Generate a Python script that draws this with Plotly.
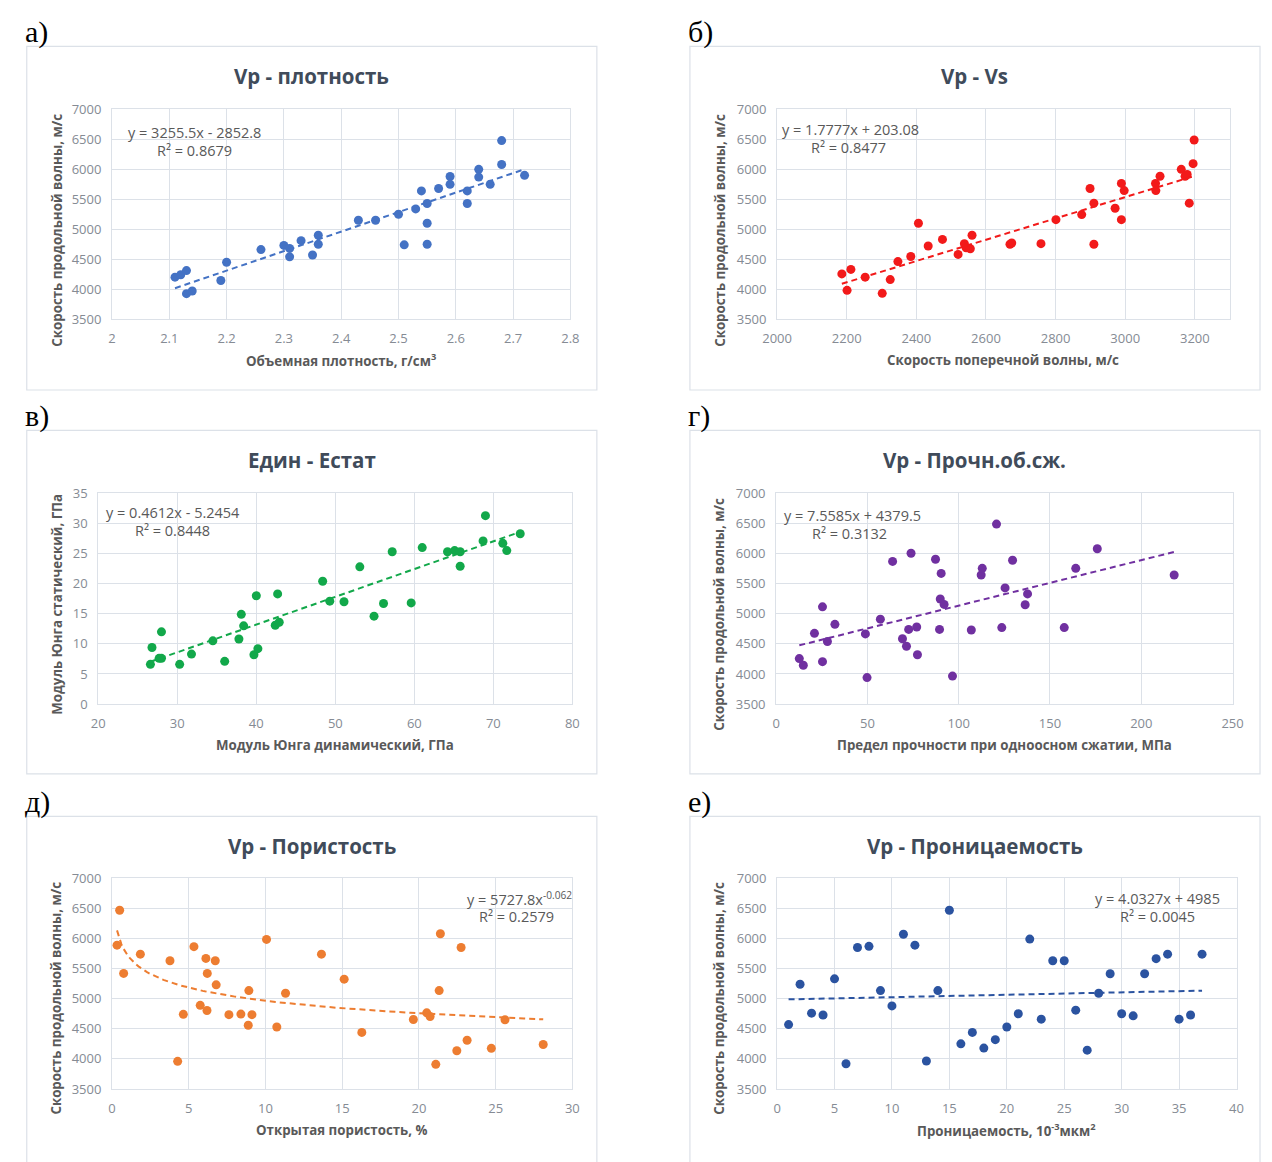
import numpy as np
import plotly.graph_objects as go

W, H = 1272, 1162

# ---------------- DATA ----------------
# а) Vp - плотность
dens_x = [2.11, 2.12, 2.13, 2.13, 2.14, 2.19, 2.20, 2.26, 2.30, 2.31, 2.31, 2.33, 2.35, 2.36, 2.36,
          2.43, 2.46, 2.50, 2.51, 2.53, 2.54, 2.55, 2.55, 2.55, 2.57, 2.59, 2.59, 2.62, 2.62, 2.64,
          2.64, 2.66, 2.68, 2.68, 2.72]
dens_vp = [4200, 4240, 4310, 3925, 3970, 4145, 4450, 4660, 4730, 4680, 4540, 4810, 4570, 4900, 4750,
           5150, 5150, 5250, 4740, 5340, 5640, 5430, 5100, 4750, 5680, 5880, 5750, 5640, 5430, 6000,
           5870, 5750, 6480, 6080, 5900]
dens_fit = (3255.5, -2852.8)

# б) Vp - Vs
vs_x = [2186, 2201, 2212, 2253, 2302, 2325, 2347, 2384, 2406, 2434, 2475, 2520, 2538, 2543, 2555,
        2560, 2669, 2674, 2758, 2801, 2875, 2899, 2910, 2910, 2971, 2989, 2989, 2997, 3087, 3088,
        3100, 3161, 3172, 3178, 3184, 3195, 3198]
vs_vp = [4255, 3980, 4330, 4200, 3930, 4160, 4460, 4545, 5100, 4720, 4830, 4580, 4760, 4690, 4675,
         4900, 4750, 4770, 4760, 5160, 5245, 5680, 5435, 4750, 5350, 5160, 5765, 5645, 5765, 5645,
         5885, 6000, 5885, 5915, 5435, 6095, 6490]
vs_fit = (1.7777, 203.08)

# в) Един - Естат
edyn = [26.6, 26.8, 27.7, 28.0, 28.0, 30.3, 31.8, 34.5, 36.0, 37.8, 38.1, 38.4, 39.7, 40.2, 40.0,
        42.4, 42.9, 42.7, 48.4, 49.3, 51.1, 53.1, 54.9, 56.1, 57.2, 59.6, 61.0, 64.2, 65.1, 65.8,
        65.8, 68.7, 69.0, 71.2, 71.7, 73.4]
estat = [6.6, 9.4, 7.6, 7.6, 12.0, 6.6, 8.3, 10.5, 7.1, 10.8, 14.9, 13.0, 8.2, 9.2, 18.0,
         13.1, 13.6, 18.3, 20.4, 17.1, 17.0, 22.8, 14.6, 16.7, 25.3, 16.8, 26.0, 25.3, 25.5, 25.3,
         22.9, 27.1, 31.3, 26.7, 25.5, 28.3]
e_fit = (0.4612, -5.2454)

# г) Vp - Прочн.об.сж.
ucs = [12.7, 14.9, 21.0, 25.4, 25.4, 28.1, 32.2, 48.9, 49.8, 57.1, 63.8, 69.2, 71.4, 72.6, 73.9,
       77.0, 77.4, 87.3, 89.5, 89.9, 90.4, 92.0, 96.6, 106.9, 112.3, 112.9, 120.7, 123.6, 125.4,
       129.5, 136.4, 137.7, 157.8, 164.1, 175.9, 218.0]
ucs_vp = [4255, 4145, 4675, 5115, 4205, 4540, 4825, 4665, 3940, 4910, 5870, 4585, 4460, 4740, 6005,
          4780, 4320, 5905, 4740, 5245, 5670, 5155, 3965, 4730, 5645, 5755, 6490, 4770, 5430,
          5890, 5150, 5330, 4770, 5755, 6080, 5645]
ucs_fit = (7.5585, 4379.5)

# д) Vp - Пористость
por = [0.33, 0.5, 0.76, 1.85, 3.78, 4.28, 4.65, 5.34, 5.75, 6.12, 6.19, 6.21, 6.73, 6.79, 7.62,
       8.4, 8.88, 8.92, 9.12, 10.07, 10.74, 11.31, 13.65, 15.13, 16.28, 19.64, 20.51, 20.73, 21.1,
       21.32, 21.4, 22.47, 22.75, 23.14, 24.72, 25.61, 28.1]
por_vp = [5890, 6470, 5420, 5740, 5630, 3960, 4740, 5865, 4890, 5670, 4805, 5420, 5630, 5230, 4735,
          4745, 4560, 5135, 4735, 5985, 4530, 5090, 5740, 5325, 4440, 4655, 4765, 4705, 3910,
          5135, 6080, 4135, 5850, 4310, 4175, 4650, 4240]
por_fit = (5727.8, -0.062)

# е) Vp - Проницаемость
perm = list(range(1, 38))
perm_vp = [4570, 5240, 4760, 4730, 5330, 3920, 5850, 5870, 5135, 4880, 6070, 5890, 3965, 5135, 6470,
           4250, 4440, 4180, 4320, 4530, 4750, 5990, 4660, 5630, 5630, 4810, 4145, 5090, 5415,
           4750, 4715, 5415, 5665, 5740, 4660, 4730, 5740]
perm_fit = (4.0327, 4985)

# ---------------- LAYOUT CONFIG ----------------
def fx(p):
    return p / W


def fy(p):
    return 1 - p / H


VP_LABEL = "Скорость продольной волны, м/с"
panels = [
    dict(x=dens_x, y=dens_vp, color="#4472C4", kind="lin", fit=dens_fit,
         xr=[2, 2.8], dx=0.1, yr=[3500, 7000], dy=500,
         dom=(99, 567, 102, 315), box=(12, 594, 38, 387), letter="а)",
         title="Vp - плотность", xt="Объемная плотность, г/см<sup>3</sup>", yt=VP_LABEL, ytc=225,
         eq="y = 3255.5x - 2852.8", r2="R² = 0.8679", eqp=(113, 125), r2p=(143, 144)),
    dict(x=vs_x, y=vs_vp, color="#F21A1A", kind="lin", fit=vs_fit,
         xr=[2000, 3300], dx=200, yr=[3500, 7000], dy=500,
         dom=(778, 1240, 102, 315), box=(689, 1271, 38, 387), letter="б)",
         title="Vp - Vs", xt="Скорость поперечной волны, м/с", yt=VP_LABEL, ytc=225,
         eq="y = 1.7777x + 203.08", r2="R² = 0.8477", eqp=(781, 122), r2p=(811, 141)),
    dict(x=edyn, y=estat, color="#12A84A", kind="lin", fit=e_fit,
         xr=[20, 80], dx=10, yr=[0, 35], dy=5,
         dom=(85, 569, 492, 706), box=(12, 594, 428, 777), letter="в)",
         title="Един - Естат", xt="Модуль Юнга динамический, ГПа", yt="Модуль Юнга статический, ГПа",
         ytc=605,
         eq="y = 0.4612x - 5.2454", r2="R² = 0.8448", eqp=(91, 511), r2p=(120, 530)),
    dict(x=ucs, y=ucs_vp, color="#7030A0", kind="lin", fit=ucs_fit,
         xr=[0, 250], dx=50, yr=[3500, 7000], dy=500,
         dom=(777, 1243, 492, 706), box=(689, 1271, 428, 777), letter="г)",
         title="Vp - Прочн.об.сж.", xt="Предел прочности при одноосном сжатии, МПа", yt=VP_LABEL,
         ytc=615,
         eq="y = 7.5585x + 4379.5", r2="R² = 0.3132", eqp=(783, 514), r2p=(812, 533)),
    dict(x=por, y=por_vp, color="#ED7D31", kind="pow", fit=por_fit,
         xr=[0, 30], dx=5, yr=[3500, 7000], dy=500,
         dom=(99, 569, 883, 1097), box=(12, 594, 820, 1175), letter="д)",
         title="Vp - Пористость", xt="Открытая пористость, %", yt=VP_LABEL, ytc=1005,
         eq="y = 5727.8x<sup>-0.062</sup>", r2="R² = 0.2579", eqp=(459, 903), r2p=(472, 922)),
    dict(x=perm, y=perm_vp, color="#2B53A0", kind="lin", fit=perm_fit,
         xr=[0, 40], dx=5, yr=[3500, 7000], dy=500,
         dom=(778, 1247, 883, 1097), box=(689, 1271, 820, 1175), letter="е)",
         title="Vp - Проницаемость", xt="Проницаемость, 10<sup>-3</sup>мкм<sup>2</sup>", yt=VP_LABEL,
         ytc=1005,
         eq="y = 4.0327x + 4985", r2="R² = 0.0045", eqp=(1100, 903), r2p=(1126, 922)),
]

FONT = "Open Sans"
TITLE_C = "#404B5A"
AX_C = "#595959"
TICK_C = "#858B94"
GRID_C = "#DCE1E8"
BOX_C = "#DCE1E8"

fig = go.Figure()
layout = dict(width=W, height=H, margin=dict(l=0, r=0, t=0, b=0),
              paper_bgcolor="white", plot_bgcolor="white", showlegend=False,
              hovermode=False, font=dict(family=FONT))
annotations = []
shapes = []

for i, p in enumerate(panels, start=1):
    sfx = "" if i == 1 else str(i)
    xa, ya = "x" + sfx, "y" + sfx
    fig.add_trace(go.Scatter(x=p["x"], y=p["y"], mode="markers", xaxis=xa, yaxis=ya,
                             marker=dict(size=9, color=p["color"], line=dict(width=0))))
    xmin, xmax = min(p["x"]), max(p["x"])
    a, b = p["fit"]
    if p["kind"] == "lin":
        tx = np.array([xmin, xmax])
        ty = a * tx + b
    else:
        tx = np.linspace(xmin, xmax, 200)
        ty = a * tx ** b
    fig.add_trace(go.Scatter(x=tx, y=ty, mode="lines", xaxis=xa, yaxis=ya,
                             line=dict(color=p["color"], width=2, dash="6px,4px")))
    x0, x1, y0, y1 = p["dom"]
    axcommon = dict(showgrid=True, gridcolor=GRID_C, gridwidth=1, zeroline=False,
                    showline=True, linecolor=GRID_C, linewidth=1, mirror=True,
                    ticks="outside", tickcolor="rgba(0,0,0,0)", ticklen=7,
                    tickfont=dict(family=FONT, size=13, color=TICK_C), fixedrange=True)
    layout["xaxis" + sfx] = dict(axcommon, domain=[fx(x0), fx(x1)], range=p["xr"],
                                 dtick=p["dx"], tick0=p["xr"][0], anchor=ya)
    layout["yaxis" + sfx] = dict(axcommon, domain=[fy(y1), fy(y0)], range=p["yr"],
                                 dtick=p["dy"], tick0=p["yr"][0], anchor=xa, tickformat="d")
    if p["xr"][1] >= 1000:
        layout["xaxis" + sfx]["tickformat"] = "d"
    bx0, bx1, by0, by1 = p["box"]
    shapes.append(dict(type="rect", xref="paper", yref="paper", x0=fx(bx0), x1=fx(bx1),
                       y0=fy(by1), y1=fy(by0), line=dict(color=BOX_C, width=1.2),
                       fillcolor="rgba(0,0,0,0)", layer="below"))
    # panel letter
    annotations.append(dict(text=p["letter"], xref="paper", yref="paper", x=fx(bx0 - 4),
                            y=fy(by0 - 15), xanchor="left", yanchor="middle", showarrow=False,
                            font=dict(family="Liberation Serif", size=30, color="black")))
    # title
    annotations.append(dict(text="<b>" + p["title"] + "</b>", xref="paper", yref="paper",
                            x=fx((bx0 + bx1) / 2), y=fy(by0 + 30), xanchor="center",
                            yanchor="middle", showarrow=False,
                            font=dict(family=FONT, size=20.5, color=TITLE_C)))
    # x-axis title
    annotations.append(dict(text="<b>" + p["xt"] + "</b>", xref="paper", yref="paper",
                            x=fx((x0 + x1) / 2), y=fy(y1 + 42), xanchor="center",
                            yanchor="middle", showarrow=False,
                            font=dict(family=FONT, size=13.3, color=AX_C)))
    # y-axis title
    annotations.append(dict(text="<b>" + p["yt"] + "</b>", xref="paper", yref="paper",
                            x=fx(bx0 + 30), y=fy(p["ytc"]), xanchor="center",
                            yanchor="middle", showarrow=False, textangle=-90,
                            font=dict(family=FONT, size=13.3, color=AX_C)))
    # equation and R2
    for txt, pos in ((p["eq"], p["eqp"]), (p["r2"], p["r2p"])):
        annotations.append(dict(text=txt, xref="paper", yref="paper", x=fx(pos[0]),
                                y=fy(pos[1]), xanchor="left", yanchor="middle",
                                showarrow=False,
                                font=dict(family=FONT, size=14.5, color=AX_C)))

layout["annotations"] = annotations
layout["shapes"] = shapes
fig.update_layout(**layout)
fig.write_html(
    "out.html",
    config=dict(displayModeBar=False, staticPlot=True),
    post_script="document.body.style.margin='0px';document.body.style.overflow='hidden';",
)
